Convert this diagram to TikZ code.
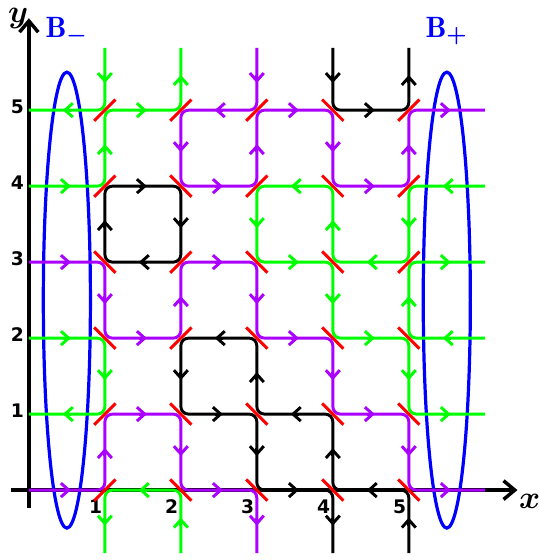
\documentclass[tikz,border=0pt]{standalone}
\usepackage{amsmath}
\usepackage{amssymb}
\usepackage{fontspec}
\newfontfamily\ticksf{DejaVu Sans}
\usetikzlibrary{arrows.meta}

\definecolor{grn}{RGB}{0,255,0}
\definecolor{vio}{RGB}{170,0,255}

\tikzset{
	strand/.style={line width=1.1pt,rounded corners=1mm},
	tip/.pic={\draw[sharp corners,-{Straight Barb[length=2.9pt,width=5.2pt]}] (-1.5pt,0) -- (1.5pt,0);},
	ar/.style={sloped,allow upside down},
	cut/.style={red,line width=1.1pt},
	axis/.style={line width=1.3pt,-{Straight Barb[length=4.2pt,width=7pt]}},
	tick/.style={font=\ticksf\bfseries\fontsize{7}{8}\selectfont,anchor=base,inner sep=0pt},
	lab/.style={font=\fontsize{12}{14}\selectfont,anchor=base,inner sep=0pt},
	bset/.style={blue,font=\fontsize{11}{13}\selectfont,anchor=base,inner sep=0pt},
	oval/.style={blue,line width=1.2pt},
}

\begin{document}
\begin{tikzpicture}
	\useasboundingbox (-0.38,-0.92) rectangle (6.71,6.45);
	\foreach \i in {1,...,5} {
		\foreach \j in {0,...,5}
			\coordinate (p\i\j) at (\i,\j);
		\coordinate (t\i) at (\i,5.82);
		\coordinate (b\i) at (\i,-0.83);
	}
	\foreach \j in {0,...,5} {
		\coordinate (l\j) at (0,\j);
		\coordinate (r\j) at (6,\j);
	}
	
	\draw[axis] (0,-0.24) -- (0,6.21);
	\draw[axis] (-0.24,0) -- (6.43,0);
	\node[lab] (ylab) at (-0.14,6.15) {$\boldsymbol{y}$};
	\node[lab] (xlab) at (6.59,-0.24) {$\boldsymbol{x}$};
	\foreach \i in {1,...,5}
		\node[tick] (xt\i) at (\i-0.12,-0.31) {\i};
	\foreach \j in {1,...,5}
		\node[tick] (yt\j) at (-0.15,\j-0.04) {\j};
	
	\draw[oval] (0.5,2.5) ellipse [x radius=0.31,y radius=3];
	\draw[oval] (5.5,2.5) ellipse [x radius=0.31,y radius=3];
	\node[bset] (Bm) at (0.5,5.96) {$\mathbf{B}_{\boldsymbol{-}}$};
	\node[bset] (Bp) at (5.5,5.96) {$\mathbf{B}_{\boldsymbol{+}}$};
	
	\draw[strand,grn] (t1) -- pic[ar]{tip} (p15) -- pic[ar]{tip} (l5);
	\draw[strand,grn] (l4) -- pic[ar]{tip} (p14) -- pic[ar]{tip} (p15) -- pic[ar]{tip} (p25) -- pic[ar]{tip} (t2);
	\draw[strand,vio] (t3) -- pic[ar]{tip} (p35) -- pic[ar]{tip} (p25) -- pic[ar]{tip} (p24) -- pic[ar]{tip} (p34)
		-- pic[ar]{tip} (p35) -- pic[ar]{tip} (p45) -- pic[ar]{tip} (p44) -- pic[ar]{tip} (p54)
		-- pic[ar]{tip} (p55) -- pic[ar]{tip} (r5);
	\draw[strand] (t4) -- pic[ar]{tip} (p45) -- pic[ar]{tip} (p55) -- pic[ar]{tip} (t5);
	\draw[strand] (p14) -- pic[ar]{tip} (p24) -- pic[ar]{tip} (p23) -- pic[ar]{tip} (p13) -- pic[ar]{tip} cycle;
	\draw[strand,vio] (l3) -- pic[ar]{tip} (p13) -- pic[ar]{tip} (p12) -- pic[ar]{tip} (p22) -- pic[ar]{tip} (p23)
		-- pic[ar]{tip} (p33) -- pic[ar]{tip} (p32) -- pic[ar]{tip} (p42) -- pic[ar]{tip} (p41)
		-- pic[ar]{tip} (p51) -- pic[ar]{tip} (p50) -- pic[ar]{tip} (r0);
	\draw[strand,grn] (l2) -- pic[ar]{tip} (p12) -- pic[ar]{tip} (p11) -- pic[ar]{tip} (l1);
	\draw[strand,vio] (l0) -- pic[ar]{tip} (p10) -- pic[ar]{tip} (p11) -- pic[ar]{tip} (p21) -- pic[ar]{tip} (p20)
		-- pic[ar]{tip} (p30) -- pic[ar]{tip} (b3);
	\draw[strand,grn] (b2) -- pic[ar]{tip} (p20) -- pic[ar]{tip} (p10) -- pic[ar]{tip} (b1);
	\draw[strand] (b5) -- pic[ar]{tip} (p50) -- pic[ar]{tip} (p40) -- pic[ar]{tip} (p41) -- pic[ar]{tip} (p31)
		-- pic[ar]{tip} (p32) -- pic[ar]{tip} (p22) -- pic[ar]{tip} (p21) -- pic[ar]{tip} (p31)
		-- pic[ar]{tip} (p30) -- pic[ar]{tip} (p40) -- pic[ar]{tip} (b4);
	\draw[strand,grn] (r4) -- pic[ar]{tip} (p54) -- pic[ar]{tip} (p53) -- pic[ar]{tip} (p43) -- pic[ar]{tip} (p44)
		-- pic[ar]{tip} (p34) -- pic[ar]{tip} (p33) -- pic[ar]{tip} (p43) -- pic[ar]{tip} (p42)
		-- pic[ar]{tip} (p52) -- pic[ar]{tip} (p51) -- pic[ar]{tip} (r1);
	\draw[strand,grn] (r2) -- pic[ar]{tip} (p52) -- pic[ar]{tip} (p53) -- pic[ar]{tip} (r3);
	
	\foreach \c in {p15,p25,p35,p55,p14,p34,p54,p23,p53,p22,p11,p10}
		\draw[cut] ([shift={(-0.14,-0.14)}]\c) -- ([shift={(0.14,0.14)}]\c);
	\foreach \c in {p45,p24,p44,p13,p33,p43,p12,p32,p42,p52,p21,p31,p41,p51,p20,p30,p40,p50}
		\draw[cut] ([shift={(-0.14,0.14)}]\c) -- ([shift={(0.14,-0.14)}]\c);
\end{tikzpicture}
\end{document}
